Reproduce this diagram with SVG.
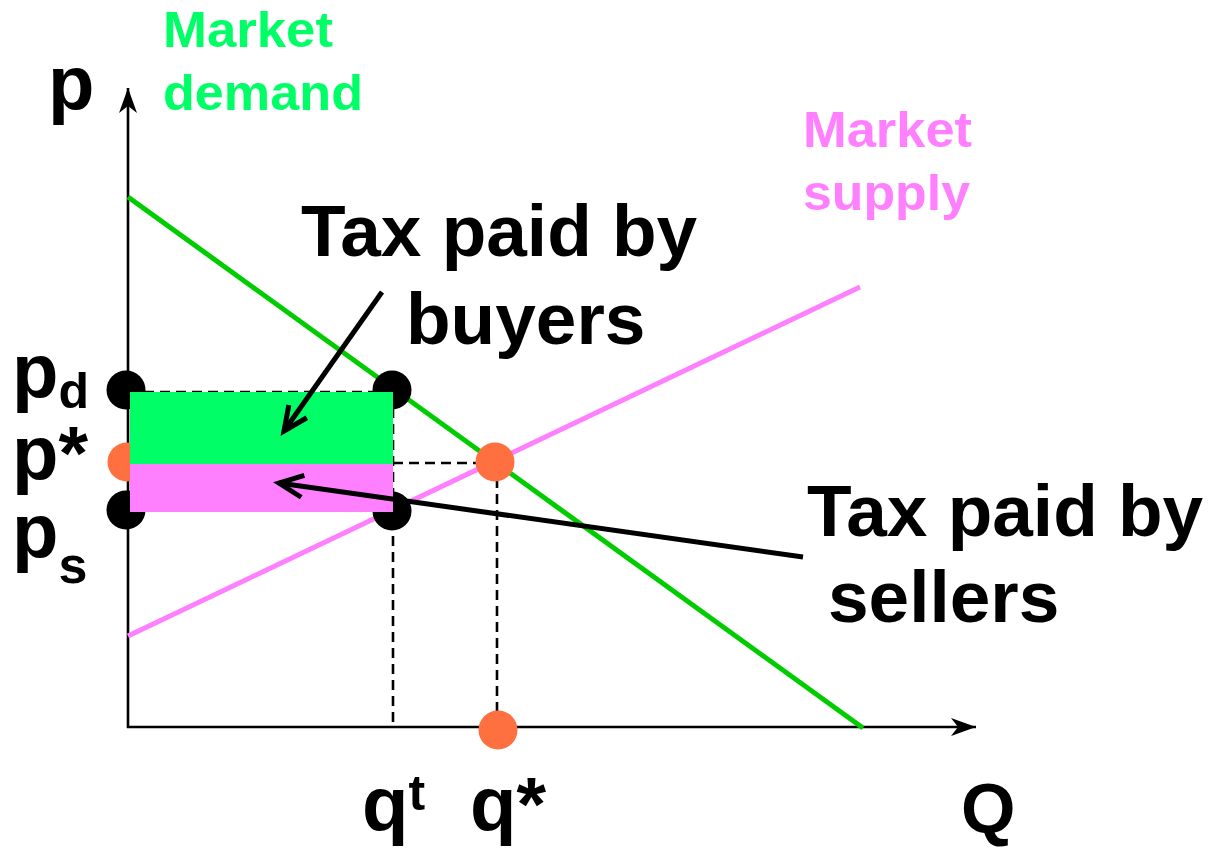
<svg xmlns="http://www.w3.org/2000/svg" width="1216" height="858" viewBox="0 0 1216 858">
<style>
.t{font-family:"Liberation Sans",Arial,sans-serif;font-weight:bold;}
.lbl{font-size:73px;fill:#000;}
.axl{font-size:76px;fill:#000;}
.dash{stroke:#000;stroke-width:2.6;stroke-dasharray:10,6;fill:none;}
.axis{stroke:#000;stroke-width:2.6;fill:none;}
.ptr{stroke:#000;stroke-width:5;fill:none;}
</style>
<defs>
<marker id="axhead" markerUnits="userSpaceOnUse" markerWidth="30" markerHeight="22" refX="26" refY="10" orient="auto">
<path d="M26,10 L1,1 L8,10 L1,19 Z" fill="#000"/>
</marker>
<marker id="ptrhead" markerUnits="userSpaceOnUse" markerWidth="34" markerHeight="30" refX="28" refY="15" orient="auto">
<path d="M4,4 L28,15 L4,26" fill="none" stroke="#000" stroke-width="5"/>
</marker>
</defs>
<rect width="1216" height="858" fill="#fff"/>

<g id="axes">
<line class="axis" x1="128" y1="728" x2="128" y2="88" marker-end="url(#axhead)"/>
<line class="axis" x1="127" y1="727" x2="976" y2="727" marker-end="url(#axhead)"/>
</g>

<g id="demand-curve">
<line x1="128" y1="197" x2="863" y2="728" stroke="#00cc00" stroke-width="5"/>
</g>
<g id="supply-curve">
<line x1="128" y1="636" x2="860" y2="287" stroke="#ff80ff" stroke-width="5"/>
</g>

<g id="guides">
<line class="dash" x1="128" y1="392" x2="393" y2="392"/>
<line class="dash" x1="393" y1="392" x2="393" y2="727"/>
<line class="dash" x1="393" y1="463" x2="495" y2="463"/>
<line class="dash" x1="497" y1="462" x2="497" y2="727"/>
</g>

<g id="points">
<circle cx="126" cy="390" r="19.5" fill="#000"/>
<circle cx="127" cy="462" r="19.5" fill="#ff7040"/>
<circle cx="126" cy="510" r="19.5" fill="#000"/>
<circle cx="392" cy="390" r="19.5" fill="#000"/>
<circle cx="392" cy="511" r="19.5" fill="#000"/>
<circle cx="495" cy="462" r="19.5" fill="#ff7040"/>
<circle cx="498" cy="730" r="19.5" fill="#ff7040"/>
</g>

<g id="tax-buyers-area">
<rect x="130" y="392" width="263" height="72" fill="#00ff66"/>
</g>
<g id="tax-sellers-area">
<rect x="130" y="464" width="263" height="48" fill="#ff80ff"/>
</g>

<g id="connectors">
<line class="ptr" x1="382" y1="292" x2="284" y2="431" marker-end="url(#ptrhead)"/>
<line class="ptr" x1="803" y1="557" x2="279" y2="483" marker-end="url(#ptrhead)"/>
</g>

<g id="label-demand">
<text class="t" x="163" y="47" font-size="50" fill="#00ff66" textLength="170" lengthAdjust="spacingAndGlyphs">Market</text>
<text class="t" x="163" y="110" font-size="50" fill="#00ff66" textLength="200" lengthAdjust="spacingAndGlyphs">demand</text>
</g>
<g id="label-supply">
<text class="t" x="803" y="147" font-size="50" fill="#ff80ff" textLength="169" lengthAdjust="spacingAndGlyphs">Market</text>
<text class="t" x="803" y="210" font-size="50" fill="#ff80ff" textLength="167" lengthAdjust="spacingAndGlyphs">supply</text>
</g>
<g id="label-buyers">
<text class="t lbl" x="301" y="256">Tax paid by</text>
<text class="t lbl" x="406" y="344">buyers</text>
</g>
<g id="label-sellers">
<text class="t lbl" x="807" y="536">Tax paid by</text>
<text class="t lbl" x="828" y="622">sellers</text>
</g>

<g id="axis-labels">
<text class="t axl" x="48" y="109">p</text>
<text class="t axl" x="12" y="397">p<tspan font-size="50" dy="11">d</tspan></text>
<text class="t axl" x="12" y="479">p*</text>
<text class="t axl" x="12" y="557">p<tspan font-size="52" dy="26">s</tspan></text>
<text class="t axl" x="362" y="830">q<tspan font-size="50" dy="-20">t</tspan></text>
<text class="t axl" x="470" y="830">q*</text>
<text class="t" x="961" y="833" font-size="70" fill="#000">Q</text>
</g>
</svg>
